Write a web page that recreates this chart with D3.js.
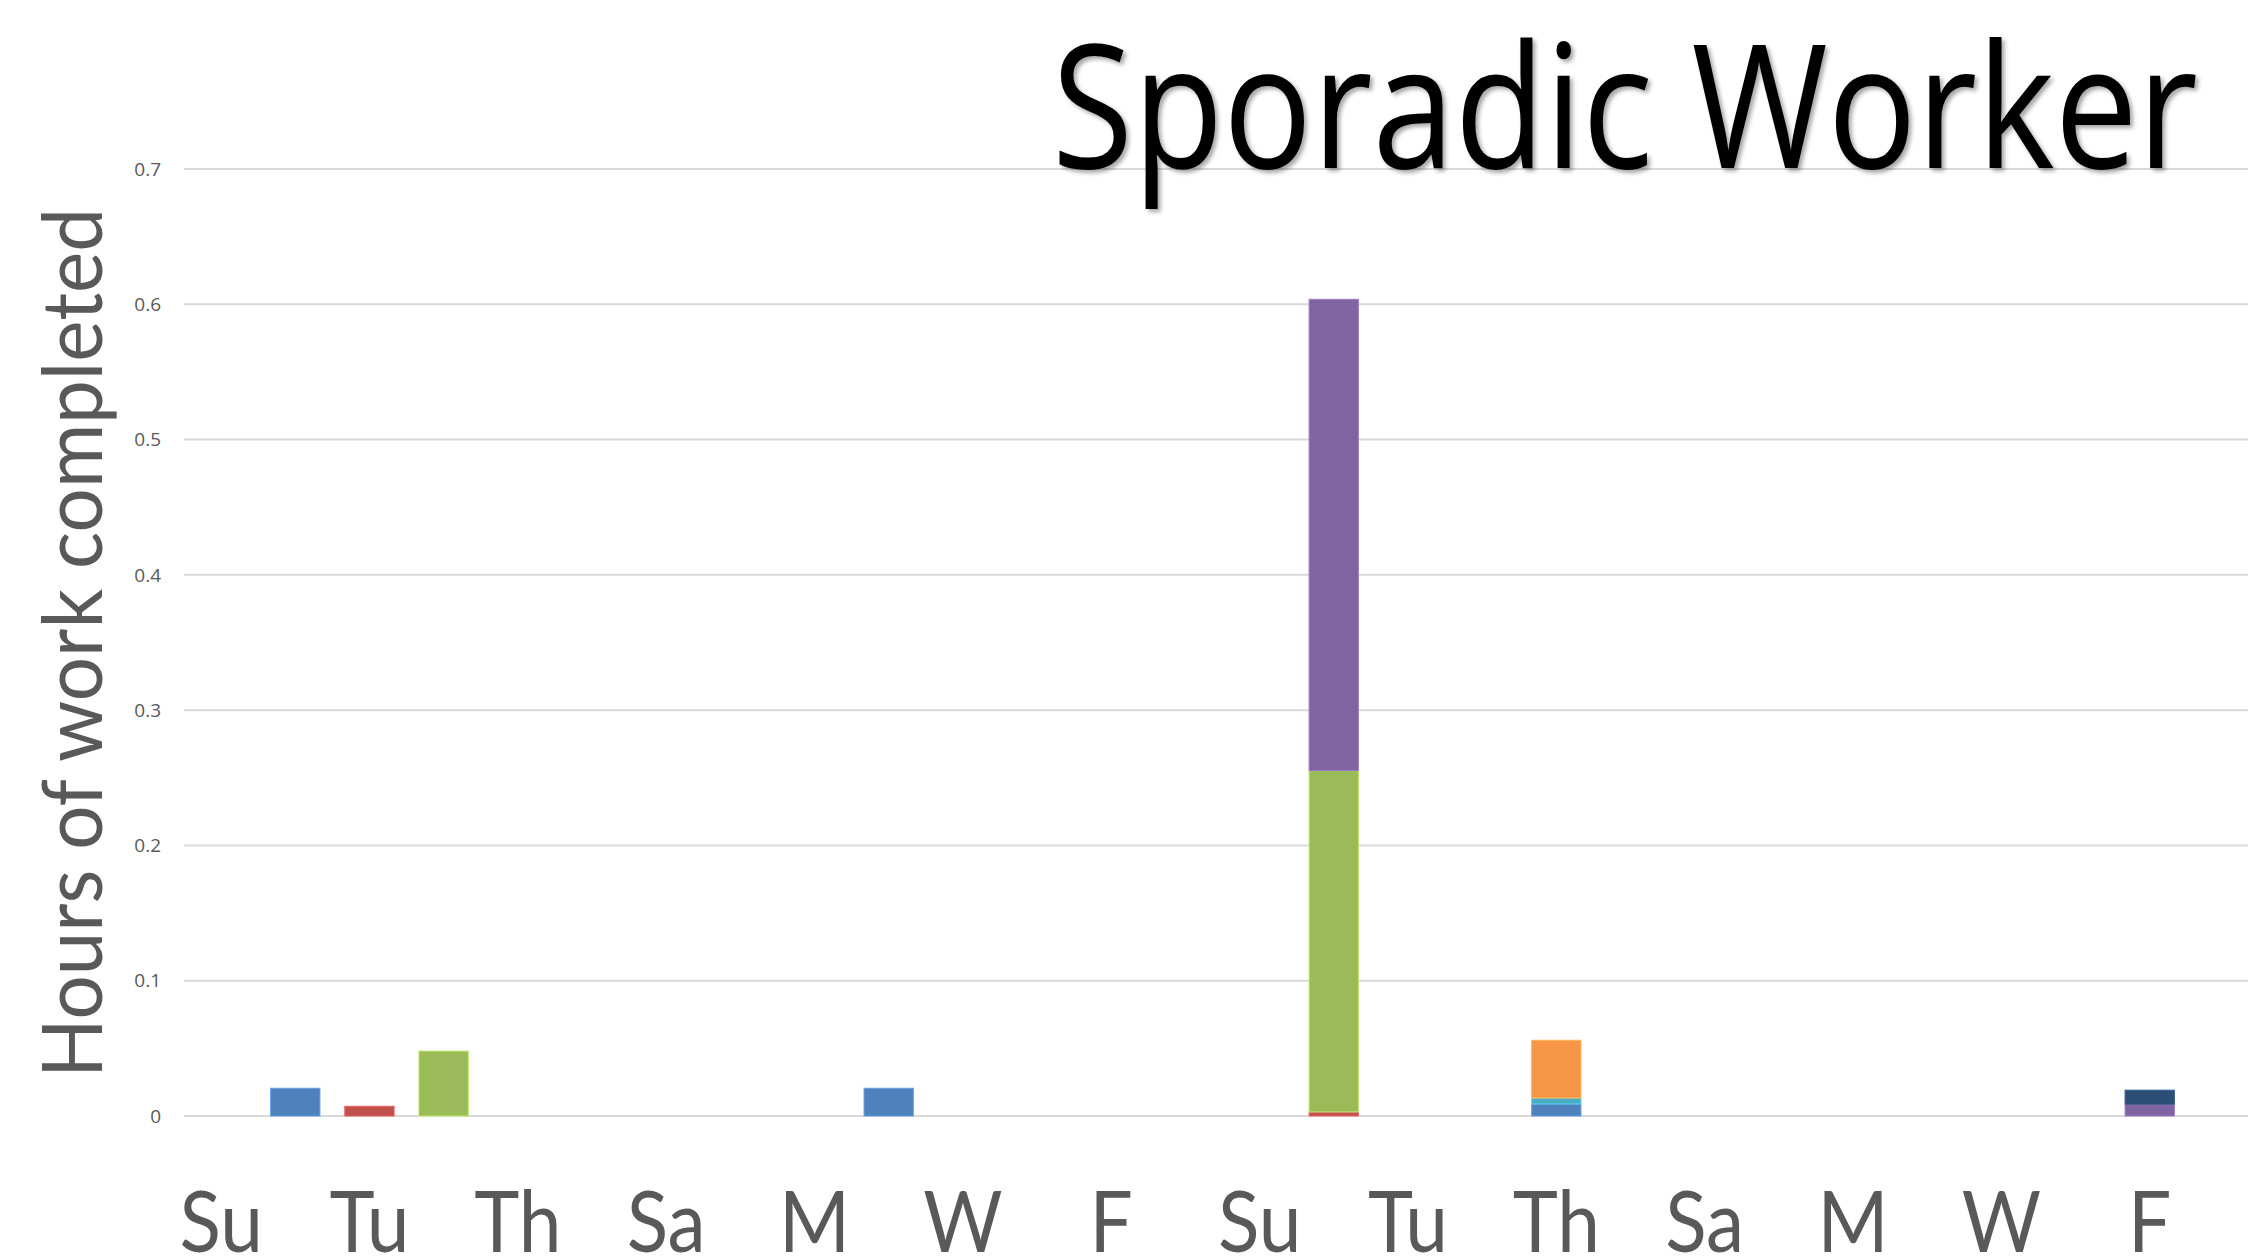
<!DOCTYPE html>
<html><head><meta charset="utf-8">
<script src="https://cdn.jsdelivr.net/npm/d3@7/dist/d3.min.js"></script>
<style>body{margin:0;background:#fff;overflow:hidden}svg{display:block}</style>
</head><body>
<script>
const days = ["Su","M","Tu","W","Th","F","Sa","Su","M","Tu","W","Th","F","Sa",
              "Su","M","Tu","W","Th","F","Sa","Su","M","Tu","W","Th","F","Sa"];
const seriesNames = ["Series 1","Series 2","Series 3","Series 4","Series 5","Series 6","Series 7"];
const seriesColors = ["#4F81BD","#C0504D","#9BBB59","#8064A2","#4BACC6","#F79646","#2C4D75"];
const s1 = [0,0.0205,0,0,0,0,0,0,0,0.0205,0,0,0,0,0,0,0,0,0.0089,0,0,0,0,0,0,0,0,0];
const s2 = [0,0,0.0072,0,0,0,0,0,0,0,0,0,0,0,0,0.003,0,0,0,0,0,0,0,0,0,0,0,0];
const s3 = [0,0,0,0.048,0,0,0,0,0,0,0,0,0,0,0,0.2524,0,0,0,0,0,0,0,0,0,0,0,0];
const s4 = [0,0,0,0,0,0,0,0,0,0,0,0,0,0,0,0.3483,0,0,0,0,0,0,0,0,0,0,0.0087,0];
const s5 = [0,0,0,0,0,0,0,0,0,0,0,0,0,0,0,0,0,0,0.0044,0,0,0,0,0,0,0,0,0];
const s6 = [0,0,0,0,0,0,0,0,0,0,0,0,0,0,0,0,0,0,0.0427,0,0,0,0,0,0,0,0,0];
const s7 = [0,0,0,0,0,0,0,0,0,0,0,0,0,0,0,0,0,0,0,0,0,0,0,0,0,0,0.0104,0];
const yTicks = [0,0.1,0.2,0.3,0.4,0.5,0.6,0.7];
const titleText = "Sporadic Worker";
const yTitle = "Hours of work completed";

const W = 2248, H = 1259;
const svg = d3.select("body").append("svg").attr("width", W).attr("height", H);
const defs = svg.append("defs");
const f = defs.append("filter").attr("id","shadow").attr("x","-5%").attr("y","-5%").attr("width","110%").attr("height","120%");
f.append("feDropShadow").attr("dx",3).attr("dy",3).attr("stdDeviation",2).attr("flood-color","#000").attr("flood-opacity",0.35);

const allSeries = [s1,s2,s3,s4,s5,s6,s7];
const rows = days.map((d,i) => { const r = {idx:i, day:d}; seriesNames.forEach((n,k)=> r[n]=allSeries[k][i]); return r; });

const x = d3.scaleBand().domain(d3.range(days.length)).range([184, 2261]).paddingInner(0.335).paddingOuter(0.1675);
const y = d3.scaleLinear().domain([0, 0.7]).range([1116, 169]);

// gridlines
svg.append("g").selectAll("line").data(yTicks).join("line")
  .attr("x1", 184).attr("x2", W).attr("y1", d=>y(d)).attr("y2", d=>y(d))
  .attr("stroke", "#D9D9D9").attr("stroke-width", 2);

// y tick labels
svg.append("g").selectAll("text").data(yTicks).join("text")
  .attr("x", 161).attr("y", d=>y(d)).attr("dy","0.35em").attr("text-anchor","end")
  .attr("font-family","'Open Sans', sans-serif").attr("font-size",19).attr("fill","#595959")
  .text(d=>d3.format("")(d));

// title
svg.append("text").attr("x", 1052).attr("y", 168)
  .attr("font-family","'Open Sans', sans-serif").attr("font-size",172).attr("fill","#000")
  .attr("textLength", 1146).attr("lengthAdjust","spacingAndGlyphs")
  .attr("filter","url(#shadow)").text(titleText);

// stacked bars
const stack = d3.stack().keys(seriesNames)(rows);
const g = svg.append("g");
stack.forEach((layer,k) => {
  g.append("g").attr("fill", seriesColors[k])
    .selectAll("rect").data(layer.filter(d => d[1]-d[0] > 0)).join("rect")
    .attr("x", d => x(d.data.idx)).attr("width", x.bandwidth())
    .attr("y", d => y(d[1])).attr("height", d => y(d[0]) - y(d[1]))
    .attr("stroke", d3.color(seriesColors[k]).brighter(0.6)).attr("stroke-width", 1);
});

// x labels (Calibri-like: narrow Lato)
svg.append("g").selectAll("text").data(d3.range(0, days.length, 2)).join("text")
  .attr("x", i => x(i) + x.bandwidth()/2).attr("y", 1252).attr("text-anchor","middle")
  .attr("font-family","Lato, sans-serif").attr("font-size",85).attr("fill","#595959")
  .text(i => days[i])
  .each(function(){ const L = this.getComputedTextLength(); d3.select(this).attr("textLength", L*0.9).attr("lengthAdjust","spacingAndGlyphs"); });

// y title
svg.append("text").attr("transform","translate(102,643) rotate(-90)").attr("text-anchor","middle")
  .attr("font-family","Lato, sans-serif").attr("font-size",84).attr("fill","#595959")
  .attr("textLength", 870).attr("lengthAdjust","spacingAndGlyphs")
  .text(yTitle);
</script>
</body></html>
